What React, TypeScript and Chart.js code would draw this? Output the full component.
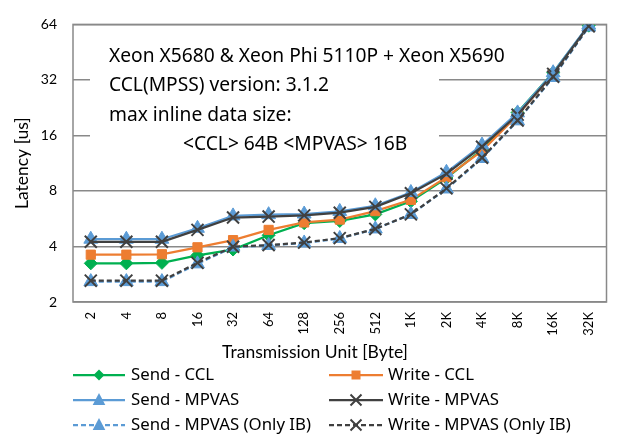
import React, { useEffect, useRef } from 'react';
import { Chart, registerables } from 'chart.js';

Chart.register(...registerables);

const categories = ['2', '4', '8', '16', '32', '64', '128', '256', '512', '1K', '2K', '4K', '8K', '16K', '32K'];

const sendCCL = [3.24, 3.24, 3.26, 3.58, 3.85, 4.6, 5.35, 5.5, 5.97, 7.03, 9.4, 13.4, 21.3, 35, 63];
const writeCCL = [3.61, 3.61, 3.63, 3.96, 4.33, 4.92, 5.4, 5.6, 6.22, 7.16, 9.5, 13.2, 20.6, 34.5, 63];
const sendMPVAS = [4.38, 4.38, 4.38, 5.02, 5.86, 5.95, 6.0, 6.2, 6.65, 7.85, 10.1, 14.2, 21.2, 35, 63.5];
const writeMPVAS = [4.24, 4.24, 4.24, 4.92, 5.74, 5.81, 5.9, 6.1, 6.56, 7.77, 9.9, 13.9, 20.7, 34.5, 63];
const sendMPVASIB = [2.58, 2.58, 2.58, 3.22, 3.97, 4.05, 4.18, 4.42, 4.98, 5.97, 8.2, 12.0, 19.2, 33, 62];
const writeMPVASIB = [2.61, 2.61, 2.61, 3.26, 3.99, 4.07, 4.2, 4.44, 4.98, 5.97, 8.26, 12.1, 19.3, 33.3, 62.5];

const seriesNames = [
  'Send - CCL',
  'Write - CCL',
  'Send - MPVAS',
  'Write - MPVAS',
  'Send - MPVAS (Only IB)',
  'Write - MPVAS (Only IB)',
];

const yTickValues = [2, 4, 8, 16, 32, 64];

const noteLines = [
  'Xeon X5680 & Xeon Phi 5110P + Xeon X5690',
  'CCL(MPSS) version: 3.1.2',
  'max inline data size:',
  '<CCL> 64B <MPVAS> 16B',
];

const xTitle = 'Transmission Unit [Byte]';
const yTitle = 'Latency [us]';

const GREEN = '#00B050';
const ORANGE = '#ED7D31';
const BLUE = '#5B9BD5';
const DARK = '#404040';
const GRID = '#898989';

type Marker = 'diamond' | 'square' | 'triangle' | 'cross';

const styles: { color: string; dash: number[]; marker: Marker }[] = [
  { color: GREEN, dash: [], marker: 'diamond' },
  { color: ORANGE, dash: [], marker: 'square' },
  { color: BLUE, dash: [], marker: 'triangle' },
  { color: DARK, dash: [], marker: 'cross' },
  { color: BLUE, dash: [5, 3], marker: 'triangle' },
  { color: DARK, dash: [5, 3], marker: 'cross' },
];

const seriesValues = [sendCCL, writeCCL, sendMPVAS, writeMPVAS, sendMPVASIB, writeMPVASIB];

const pointStyleMap: Record<Marker, string> = {
  diamond: 'rectRot',
  square: 'rect',
  triangle: 'triangle',
  cross: 'crossRot',
};
const pointRadiusMap: Record<Marker, number> = {
  diamond: 6.5,
  square: 6.5,
  triangle: 8,
  cross: 8.5,
};

function drawMarker(ctx: CanvasRenderingContext2D, m: Marker, x: number, y: number, r: number, color: string) {
  ctx.save();
  ctx.fillStyle = color;
  ctx.strokeStyle = color;
  ctx.setLineDash([]);
  ctx.beginPath();
  if (m === 'diamond') {
    ctx.moveTo(x - r, y);
    ctx.lineTo(x, y - r);
    ctx.lineTo(x + r, y);
    ctx.lineTo(x, y + r);
    ctx.closePath();
    ctx.fill();
  } else if (m === 'square') {
    ctx.rect(x - r, y - r, 2 * r, 2 * r);
    ctx.fill();
  } else if (m === 'triangle') {
    ctx.moveTo(x, y - r);
    ctx.lineTo(x + r * 0.9, y + r * 0.7);
    ctx.lineTo(x - r * 0.9, y + r * 0.7);
    ctx.closePath();
    ctx.fill();
  } else {
    ctx.lineWidth = 2;
    ctx.moveTo(x - r, y - r);
    ctx.lineTo(x + r, y + r);
    ctx.moveTo(x + r, y - r);
    ctx.lineTo(x - r, y + r);
    ctx.stroke();
  }
  ctx.restore();
}

const decorPlugin = {
  id: 'decor',
  beforeDatasetsDraw(chart: any) {
    const { ctx, chartArea } = chart;
    const { left, top, right, bottom } = chartArea;
    ctx.save();
    // plot frame
    ctx.strokeStyle = GRID;
    ctx.lineWidth = 1.5;
    ctx.strokeRect(left, top, right - left, bottom - top);
    // text box
    ctx.fillStyle = '#ffffff';
    ctx.fillRect(left + 17, top + 6, 349, 124);
    ctx.fillStyle = '#000000';
    ctx.font = '19.2px "Noto Sans"';
    ctx.textBaseline = 'middle';
    ctx.textAlign = 'left';
    const offsets = [32, 61, 91, 120];
    noteLines.forEach((line, i) => {
      const x = i === 3 ? left + 110 : left + 36;
      ctx.fillText(line, x, top + offsets[i]);
    });
    ctx.restore();
  },
  afterDraw(chart: any) {
    const { ctx, chartArea } = chart;
    const h = chart.height;
    ctx.save();
    // x axis title
    ctx.fillStyle = '#000000';
    ctx.font = '17.5px Lato';
    ctx.textAlign = 'center';
    ctx.textBaseline = 'middle';
    ctx.fillText(xTitle, chartArea.left + 242, chartArea.bottom + 50);

    const rows = [h - 62, h - 37, h - 12];
    const cols = [
      { x0: 73, x1: 125, tx: 131 },
      { x0: 329, x1: 383, tx: 388 },
    ];
    ctx.font = '16.8px "Noto Sans"';
    ctx.textBaseline = 'middle';
    ctx.textAlign = 'left';
    seriesNames.forEach((name, i) => {
      const col = cols[i % 2];
      const y = rows[Math.floor(i / 2)];
      const st = styles[i];
      ctx.strokeStyle = st.color;
      ctx.lineWidth = 2.25;
      ctx.setLineDash(st.dash);
      ctx.beginPath();
      ctx.moveTo(col.x0, y);
      ctx.lineTo(col.x1, y);
      ctx.stroke();
      ctx.setLineDash([]);
      const mx = (col.x0 + col.x1) / 2;
      const mr = st.marker === 'triangle' ? 7 : st.marker === 'cross' ? 5.5 : st.marker === 'square' ? 4.5 : 5.5;
      drawMarker(ctx, st.marker, mx, y, mr, st.color);
      ctx.fillStyle = '#000000';
      ctx.fillText(name, col.tx, y);
    });
    ctx.restore();
  },
};

export default function App() {
  const canvasRef = useRef<HTMLCanvasElement | null>(null);

  useEffect(() => {
    if (!canvasRef.current) return;
    const datasets = seriesValues.map((vals, i) => {
      const st = styles[i];
      return {
        label: seriesNames[i],
        data: vals,
        borderColor: st.color,
        backgroundColor: st.color,
        borderWidth: 2.25,
        borderDash: st.dash,
        pointStyle: pointStyleMap[st.marker],
        pointRadius: pointRadiusMap[st.marker],
        pointHoverRadius: pointRadiusMap[st.marker],
        pointBackgroundColor: st.color,
        pointBorderColor: st.color,
        pointBorderWidth: st.marker === 'cross' ? 2 : 1,
        tension: 0,
        fill: false,
        order: seriesValues.length - i,
      };
    });

    const chart = new Chart(canvasRef.current, {
      type: 'line',
      data: { labels: categories, datasets },
      plugins: [decorPlugin],
      options: {
        animation: false,
        responsive: false,
        maintainAspectRatio: false,
        layout: { padding: { top: 16, right: 3, bottom: 75, left: 0 } },
        plugins: {
          legend: { display: false },
          tooltip: { enabled: false },
        },
        scales: {
          x: {
            type: 'category',
            offset: true,
            grid: { display: false, drawTicks: false },
            border: { display: false },
            ticks: {
              minRotation: 90,
              maxRotation: 90,
              autoSkip: false,
              padding: 10,
              color: '#000',
              font: { family: 'Lato', size: 13 },
            },
            title: { display: false, text: xTitle },
            afterFit(scale: any) {
              scale.height = 60;
            },
          },
          y: {
            type: 'logarithmic',
            min: 2,
            max: 64,
            afterBuildTicks(scale: any) {
              scale.ticks = yTickValues.map((v) => ({ value: v }));
            },
            grid: { color: GRID, lineWidth: 1.5, drawTicks: false },
            border: { display: false },
            ticks: {
              padding: 16,
              color: '#000',
              font: { family: 'Lato', size: 14 },
              callback: (v: any) => String(v),
            },
            title: {
              display: true,
              text: yTitle,
              color: '#000',
              padding: { top: 12, bottom: 0 },
              font: { family: 'Lato', size: 17.5 },
            },
            afterFit(scale: any) {
              scale.width = 73;
            },
          },
        },
      } as any,
    });
    return () => chart.destroy();
  }, []);

  return (
    <div style={{ position: 'absolute', left: 0, top: 0, width: 617, height: 437, background: '#fff' }}>
      <canvas ref={canvasRef} width={617} height={437} style={{ display: 'block', width: 617, height: 437 }} />
    </div>
  );
}
